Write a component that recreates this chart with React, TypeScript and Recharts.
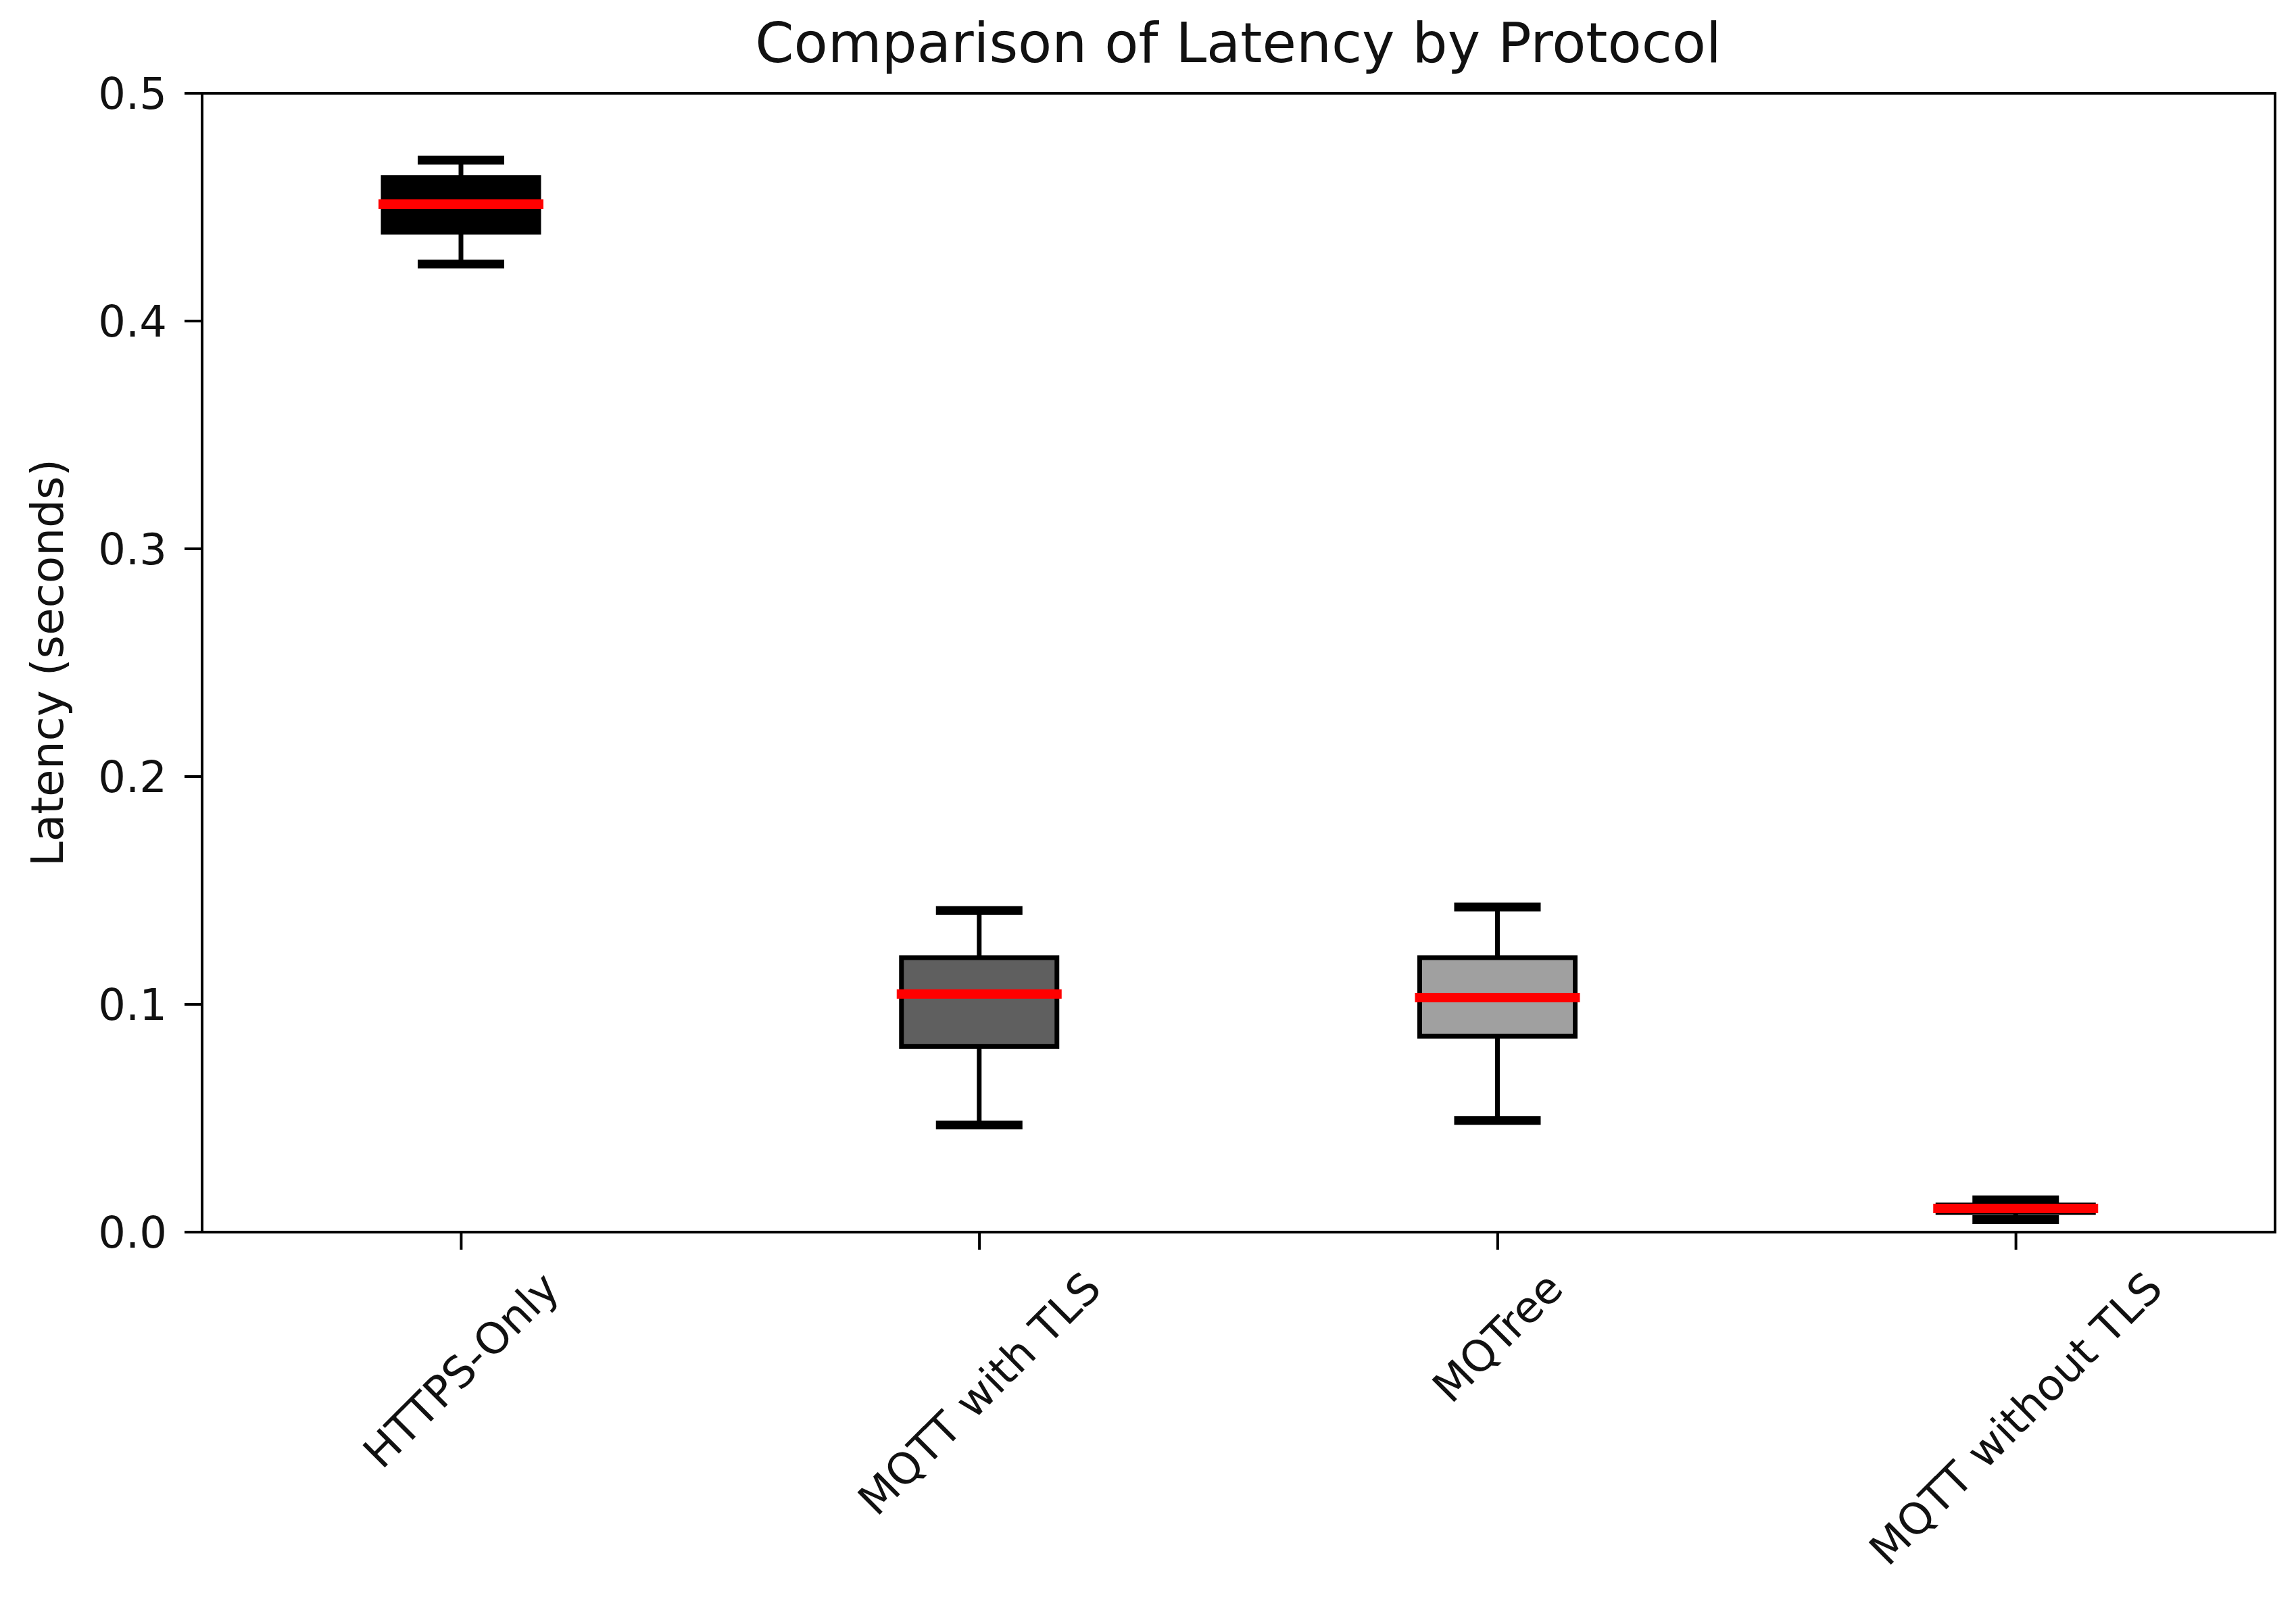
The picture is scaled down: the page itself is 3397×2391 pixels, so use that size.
import React from "react";
import { ComposedChart, Bar, XAxis, YAxis, ReferenceArea } from "recharts";

/**
 * Box plot: latency per protocol.
 * Whisker range drives the Bar; box/median/caps are placed inside it.
 */

const protocols = ["HTTPS-Only", "MQTT with TLS", "MQTree", "MQTT without TLS"];
const whiskerLow = [0.425, 0.047, 0.049, 0.0055];
const q1 = [0.439, 0.0815, 0.086, 0.0086];
const median = [0.4513, 0.1045, 0.103, 0.0104];
const q3 = [0.463, 0.1205, 0.1205, 0.0119];
const whiskerHigh = [0.4706, 0.1412, 0.1427, 0.0142];
const boxFills = ["#000000", "#5f5f5f", "#a0a0a0", "#000000"];
const yTicks = [0, 0.1, 0.2, 0.3, 0.4, 0.5];

const data = protocols.map((name, i) => ({
  name,
  range: [whiskerLow[i], whiskerHigh[i]],
  q1: q1[i],
  median: median[i],
  q3: q3[i],
  fill: boxFills[i],
}));

const FONT = "'DejaVu Sans', sans-serif";
const TICK_FONT_SIZE = 64;

let measureCtx: CanvasRenderingContext2D | null = null;
function textWidth(s: string, fontSize: number) {
  if (!measureCtx) measureCtx = document.createElement("canvas").getContext("2d");
  if (!measureCtx) return s.length * fontSize * 0.6;
  measureCtx.font = `${fontSize}px 'DejaVu Sans'`;
  return measureCtx.measureText(s).width;
}

function BoxShape(props: any) {
  const { x, y, width, height, payload } = props;
  const [lo, hi] = payload.range;
  const top = Math.min(y, y + height);
  const h = Math.abs(height);
  const k = h / (hi - lo);
  const py = (v: number) => top + (hi - v) * k;
  const cx = x + width / 2;
  const capHalf = width / 4;
  const yQ1 = py(payload.q1);
  const yQ3 = py(payload.q3);
  const yMed = py(payload.median);
  return (
    <g>
      <rect
        x={x}
        y={yQ3}
        width={width}
        height={yQ1 - yQ3}
        fill={payload.fill}
        stroke="#000"
        strokeWidth={7}
      />
      <line x1={cx} x2={cx} y1={yQ3} y2={py(hi)} stroke="#000" strokeWidth={7} />
      <line x1={cx} x2={cx} y1={yQ1} y2={py(lo)} stroke="#000" strokeWidth={7} />
      <line
        x1={cx - capHalf}
        x2={cx + capHalf}
        y1={py(hi)}
        y2={py(hi)}
        stroke="#000"
        strokeWidth={13}
        strokeLinecap="square"
      />
      <line
        x1={cx - capHalf}
        x2={cx + capHalf}
        y1={py(lo)}
        y2={py(lo)}
        stroke="#000"
        strokeWidth={13}
        strokeLinecap="square"
      />
      <line
        x1={x}
        x2={x + width}
        y1={yMed}
        y2={yMed}
        stroke="#ff0000"
        strokeWidth={14}
        strokeLinecap="square"
      />
    </g>
  );
}

function RotatedTick(props: any) {
  const { x, y, payload } = props;
  const label = String(payload.value);
  const w = textWidth(label, TICK_FONT_SIZE);
  const h = TICK_FONT_SIZE * 1.164;
  const cy = y + ((w + h) * Math.SQRT1_2) / 2;
  return (
    <text
      x={x}
      y={cy}
      textAnchor="middle"
      dominantBaseline="central"
      transform={`rotate(-45 ${x} ${cy})`}
      fontFamily={FONT}
      fontSize={TICK_FONT_SIZE}
      fill="#111"
    >
      {label}
    </text>
  );
}

function YLabel(props: any) {
  const vb = props.viewBox || { x: 0, y: 138, width: 299, height: 1685 };
  const lx = vb.x + 93;
  const ly = vb.y + vb.height / 2;
  return (
    <text
      x={lx}
      y={ly}
      textAnchor="middle"
      transform={`rotate(-90 ${lx} ${ly})`}
      fontFamily={FONT}
      fontSize={66}
      fill="#111"
    >
      Latency (seconds)
    </text>
  );
}

export default function App() {
  const axisLine = { stroke: "#000", strokeWidth: 4 };
  const tickLine = { stroke: "#000", strokeWidth: 4 };
  return (
    <div
      style={{
        position: "absolute",
        left: 0,
        top: 0,
        width: 3397,
        height: 2391,
        background: "#fff",
      }}
    >
      <ComposedChart
        width={3397}
        height={2391}
        data={data}
        margin={{ top: 138, right: 31, bottom: 0, left: 0 }}
      >
        <XAxis
          dataKey="name"
          type="category"
          height={568}
          interval={0}
          tickSize={26}
          tickMargin={19}
          axisLine={axisLine}
          tickLine={tickLine}
          tick={<RotatedTick />}
        />
        <YAxis
          type="number"
          domain={[0, 0.5]}
          ticks={yTicks}
          interval={0}
          width={299}
          tickSize={26}
          tickMargin={26}
          axisLine={axisLine}
          tickLine={tickLine}
          tickFormatter={(v: number) => v.toFixed(1)}
          tick={{ fontFamily: FONT, fontSize: TICK_FONT_SIZE, fill: "#111" }}
          label={<YLabel />}
        />
        {/* full axes frame (top and right spines) */}
        <ReferenceArea
          x1={protocols[0]}
          x2={protocols[protocols.length - 1]}
          y1={0}
          y2={0.5}
          fill="none"
          fillOpacity={0}
          stroke="#000"
          strokeWidth={4}
          ifOverflow="visible"
        />
        <Bar
          dataKey="range"
          barSize={230}
          isAnimationActive={false}
          shape={(p: any) => <BoxShape {...p} />}
        />
      </ComposedChart>
      <svg
        width={3397}
        height={2391}
        style={{ position: "absolute", left: 0, top: 0, pointerEvents: "none" }}
      >
        <text
          x={1832}
          y={92}
          textAnchor="middle"
          fontFamily={FONT}
          fontSize={82}
          fill="#111"
        >
          Comparison of Latency by Protocol
        </text>
      </svg>
    </div>
  );
}
